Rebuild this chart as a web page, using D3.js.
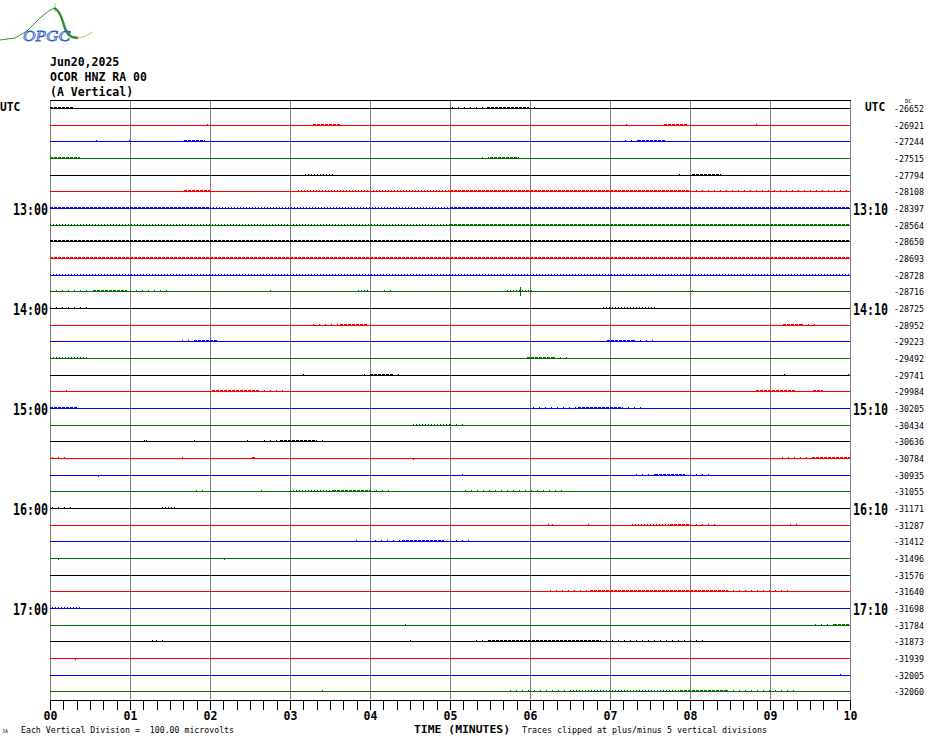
<!DOCTYPE html>
<html>
<head>
<meta charset="utf-8">
<script src="https://cdn.jsdelivr.net/npm/d3@7"></script>
<style>
  html, body { margin: 0; padding: 0; background: #fff; }
  svg { display: block; }
</style>
</head>
<body>
<div id="chart"></div>
<script>
// ---------------- data ----------------
const titleLines = ["Jun20,2025", "OCOR HNZ RA 00", "(A Vertical)"];
const leftHourLabels = ["UTC", "13:00", "14:00", "15:00", "16:00", "17:00"];
const rightHourLabels = ["UTC", "13:10", "14:10", "15:10", "16:10", "17:10"];
const minuteLabels = ["00","01","02","03","04","05","06","07","08","09","10"];
const dcOffsets = [
  -26652, -26921, -27244, -27515, -27794, -28108,
  -28397, -28564, -28650, -28693, -28728, -28716,
  -28725, -28952, -29223, -29492, -29741, -29984,
  -30205, -30434, -30636, -30784, -30935, -31055,
  -31171, -31287, -31412, -31496, -31576, -31640,
  -31698, -31784, -31873, -31939, -32005, -32060
];
// noise bursts: [row, startMinute, endMinute, amplitude (microvolts), density 1..3]
const bursts = [
  [0,0,0.29,12,3],[0,5.02,5.45,10,1],[0,5.46,5.98,14,3],[0,5.98,6.09,10,1],
  [1,3.29,3.62,14,3],[1,7.67,7.96,14,3],
  [2,1.67,1.92,14,3],[2,1.92,2.06,10,1],[2,7.19,7.35,10,1],[2,7.35,7.7,14,3],
  [3,0,0.37,12,3],[3,5.4,5.5,10,1],[3,5.5,5.86,14,3],
  [4,3.19,3.54,12,2],[4,8.03,8.39,14,3],
  [5,1.67,2.0,14,3],[5,3.1,5.0,12,2],[5,5.0,8.0,12,3],[5,8.0,10,12,1],
  [6,0,2,12,3],[6,2,5,12,2],[6,5,10,12,3],
  [7,0,5,12,2],[7,5,10,12,3],
  [8,0,10,12,3],
  [9,0,10,12,3],
  [10,0,10,12,2],
  [11,0,0.5,10,1],[11,0.54,0.96,12,3],[11,1,1.5,10,1],[11,3.85,3.98,10,2],[11,4.17,4.27,10,1],[11,5.71,6.02,10,2],
  [12,0,0.48,10,1],[12,6.91,7.56,12,2],
  [13,3.29,3.62,10,1],[13,3.62,3.98,14,3],[13,9.16,9.4,14,3],[13,9.4,9.58,10,1],
  [14,1.65,1.8,10,1],[14,1.8,2.1,14,3],[14,6.96,7.3,14,3],[14,7.3,7.55,10,1],
  [15,0,0.46,12,2],[15,5.96,6.3,14,3],[15,6.3,6.48,10,1],
  [16,3.92,4.0,10,1],[16,4.0,4.28,14,3],[16,4.28,4.4,10,1],
  [17,0.2,0.27,10,1],[17,2.02,2.6,12,3],[17,2.6,2.94,10,1],[17,8.83,9.33,12,3],[17,9.54,9.66,12,3],
  [18,0,0.35,12,3],[18,6.04,6.6,10,1],[18,6.6,7.15,14,3],[18,7.15,7.44,10,1],
  [19,4.54,5.0,12,2],[19,5.0,5.2,10,1],
  [20,2.67,2.87,10,1],[20,2.87,3.33,14,3],[20,3.33,3.46,10,1],
  [21,0.02,0.25,10,1],[21,2.52,2.58,14,3],[21,9.15,9.5,10,1],[21,9.52,10,14,3],
  [22,7.33,7.56,10,1],[22,7.56,7.92,14,3],[22,7.92,8.25,10,1],
  [23,1.83,1.96,10,1],[23,3.0,3.54,10,2],[23,3.54,4.0,14,3],[23,4.0,4.27,10,1],[23,5.19,6.44,10,1],
  [24,0.02,0.31,10,1],[24,1.4,1.58,10,2],
  [25,7.28,7.75,10,2],[25,7.75,8.0,14,3],[25,8.0,8.33,10,1],
  [26,4.06,4.4,10,1],[26,4.4,4.92,14,3],[26,5.0,5.29,10,1],
  [29,6.25,6.75,10,1],[29,6.75,8.46,14,3],[29,8.46,9.25,10,1],
  [30,0.02,0.4,10,2],
  [31,9.56,9.8,10,1],[31,9.8,10,14,3],
  [32,5.33,5.48,10,1],[32,5.48,6.88,14,3],[32,6.88,8.23,10,1],
  [35,5.75,6.5,10,1],[35,6.5,7.87,10,2],[35,7.87,8.46,14,3],[35,8.46,9.31,10,1]
];
// isolated spikes: [row, minute, amplitude (microvolts, + up / - down)]
const spikes = [
  [1,1.96,10],[1,7.2,10],[1,8.83,10],
  [2,0.58,10],[2,0.99,10],
  [4,7.86,10],
  [11,2.75,10],[11,5.87,25],[11,5.87,-25],[11,8.02,10],
  [16,3.16,10],[16,9.18,10],[16,9.98,10],
  [20,1.17,10],[20,1.2,10],[20,1.8,10],[20,2.46,10],
  [21,1.65,10],[21,4.54,-10],
  [22,0.6,-10],[22,5.15,10],
  [23,2.64,10],
  [25,6.23,10],[25,6.27,10],[25,6.73,10],[25,9.25,10],[25,9.33,10],
  [26,3.83,10],
  [27,0.1,-10],[27,2.17,-10],
  [31,4.44,10],
  [32,1.27,10],[32,1.33,10],[32,1.4,10],[32,4.5,10],
  [33,0.31,-10],
  [34,9.87,10],
  [35,3.4,10]
];
const traceColors = ["#000000", "#ff0000", "#0000ff", "#007000"];

// ---------------- drawing ----------------
const W = 930, H = 744;
const plotL = 50, plotR = 850, plotT = 100, plotB = 700;
const ROWS = dcOffsets.length;

const svg = d3.select("#chart").append("svg")
  .attr("width", W).attr("height", H)
  .style("background", "#fff");

const x = d3.scaleLinear().domain([0, 10]).range([plotL, plotR]);
const row = d3.scaleBand().domain(d3.range(ROWS)).range([plotT, plotB]);
const rowY = i => Math.floor(row(i) + row.bandwidth() / 2) + 0.5;
// one vertical division (100 microvolts) = one row spacing
const amp = d3.scaleLinear().domain([0, 100]).range([0, row.bandwidth()]);

const mono = "'DejaVu Sans Mono', 'Liberation Mono', monospace";

// logo
const logo = svg.append("g");
logo.append("path")
  .attr("d", "M0,40 L15,38 L27,31 L40,18 L50,10 L55,8")
  .attr("fill", "none").attr("stroke", "#2f8f2f").attr("stroke-width", 1);
logo.append("path")
  .attr("d", "M55,3 L55,12").attr("stroke", "#9ccf8c").attr("stroke-width", 1);
logo.append("path")
  .attr("d", "M54,8 C59,10 61,15 63,22 C65,30 67,35 72,37 L78,38")
  .attr("fill", "none").attr("stroke", "#2f8f2f").attr("stroke-width", 2.4);
logo.append("path")
  .attr("d", "M78,38 L86,36 L93,32")
  .attr("fill", "none").attr("stroke", "#9ccf8c").attr("stroke-width", 1);
logo.append("text")
  .attr("x", 23).attr("y", 41)
  .attr("textLength", 47).attr("lengthAdjust", "spacingAndGlyphs")
  .style("font-family", "'Liberation Serif', serif")
  .style("font-style", "italic").style("font-size", "15px")
  .attr("fill", "#ffffff").attr("stroke", "#2a5fc8").attr("stroke-width", 0.8)
  .text("OPGC");

// header
svg.append("g").selectAll("text").data(titleLines).join("text")
  .attr("x", 50).attr("y", (d, i) => 66 + i * 14.8)
  .style("font-family", mono).style("font-size", "11.5px").style("font-weight", "bold")
  .attr("fill", "#000")
  .text(d => d);

// gray vertical minute lines
svg.append("g").selectAll("line").data(d3.range(0, 11)).join("line")
  .attr("x1", d => Math.round(x(d)) + 0.5).attr("x2", d => Math.round(x(d)) + 0.5)
  .attr("y1", plotT).attr("y2", plotB)
  .attr("stroke", "#808080").attr("stroke-width", 1);

// top frame line
svg.append("line")
  .attr("x1", plotL).attr("x2", plotR + 1).attr("y1", plotT + 0.5).attr("y2", plotT + 0.5)
  .attr("stroke", "#000").attr("stroke-width", 1);

// trace baselines
const traces = svg.append("g");
traces.selectAll("line").data(d3.range(ROWS)).join("line")
  .attr("x1", plotL).attr("x2", plotR)
  .attr("y1", d => rowY(d)).attr("y2", d => rowY(d))
  .attr("stroke", d => traceColors[d % 4]).attr("stroke-width", 1)
  .attr("shape-rendering", "crispEdges");

// bursts
const dash = {1: "1,5", 2: "1,2", 3: "3,1"};
traces.append("g").selectAll("line").data(bursts).join("line")
  .attr("x1", d => x(d[1])).attr("x2", d => x(d[2]))
  .attr("y1", d => rowY(d[0]) + 0.5 - amp(d[3]) / 2)
  .attr("y2", d => rowY(d[0]) + 0.5 - amp(d[3]) / 2)
  .attr("stroke", d => traceColors[d[0] % 4])
  .attr("stroke-width", d => amp(d[3]))
  .attr("stroke-dasharray", d => dash[d[4]])
  .attr("shape-rendering", "crispEdges");

// spikes
traces.append("g").selectAll("line").data(spikes).join("line")
  .attr("x1", d => Math.round(x(d[1])) + 0.5).attr("x2", d => Math.round(x(d[1])) + 0.5)
  .attr("y1", d => rowY(d[0]))
  .attr("y2", d => rowY(d[0]) - amp(d[2]))
  .attr("stroke", d => traceColors[d[0] % 4]).attr("stroke-width", 1)
  .attr("shape-rendering", "crispEdges");

// hour labels (left and right) – tall narrow bold glyphs via vertical stretch
const hourRows = leftHourLabels.map((d, i) => i * 6);
function hourLabels(labels, xUtc, xHour) {
  svg.append("g").selectAll("text").data(labels).join("text")
    .attr("transform", (d, i) => i === 0
      ? `translate(${xUtc},111) scale(0.93,1.05)`
      : `translate(${xHour},${rowY(hourRows[i]) + 6.5}) scale(0.97,1.25)`)
    .style("font-family", mono).style("font-weight", "bold")
    .style("font-size", "12px")
    .text(d => d);
}
hourLabels(leftHourLabels, 0, 13);
hourLabels(rightHourLabels, 865, 853);

// DC offset labels
svg.append("text")
  .attr("x", 905).attr("y", 102.5)
  .style("font-family", mono).style("font-size", "5.5px")
  .text("DC");
svg.append("g").selectAll("text").data(dcOffsets).join("text")
  .attr("x", 924).attr("y", (d, i) => rowY(i) + 3.5)
  .attr("text-anchor", "end")
  .style("font-family", mono).style("font-size", "8.3px")
  .text(d => d3.format("d")(d).replace("−", "-"));

// bottom time axis
const axis = d3.axisBottom(x)
  .tickValues(d3.range(0, 61).map(d => d / 6))
  .tickSize(10).tickPadding(2)
  .tickFormat(d => {
    const k = Math.round(d * 6);
    return k % 6 === 0 ? minuteLabels[k / 6] : "";
  });
const ax = svg.append("g").attr("transform", `translate(0,${plotB})`).call(axis);
ax.select(".domain").attr("stroke", "#000").attr("d", `M${plotL},0.5H${plotR + 1}`);
ax.selectAll(".tick line").attr("stroke", "#000").attr("shape-rendering", "crispEdges");
ax.selectAll(".tick text")
  .style("font-family", mono).style("font-weight", "bold").style("font-size", "11.5px")
  .attr("fill", "#000");

// footer texts
svg.append("text")
  .attr("x", 414).attr("y", 733)
  .attr("textLength", 96).attr("lengthAdjust", "spacingAndGlyphs")
  .style("font-family", mono).style("font-weight", "bold").style("font-size", "11px")
  .text("TIME (MINUTES)");
svg.append("text")
  .attr("x", 21).attr("y", 732.5)
  .attr("textLength", 213).attr("lengthAdjust", "spacingAndGlyphs")
  .style("font-family", mono).style("font-size", "8.3px")
  .attr("xml:space", "preserve")
  .text("Each Vertical Division =  100.00 microvolts");
svg.append("text")
  .attr("x", 522).attr("y", 732.5)
  .attr("textLength", 245).attr("lengthAdjust", "spacingAndGlyphs")
  .style("font-family", mono).style("font-size", "8.3px")
  .text("Traces clipped at plus/minus 5 vertical divisions");
svg.append("text")
  .attr("x", 2).attr("y", 733)
  .style("font-family", mono).style("font-size", "5px")
  .text("JA");
</script>
</body>
</html>
